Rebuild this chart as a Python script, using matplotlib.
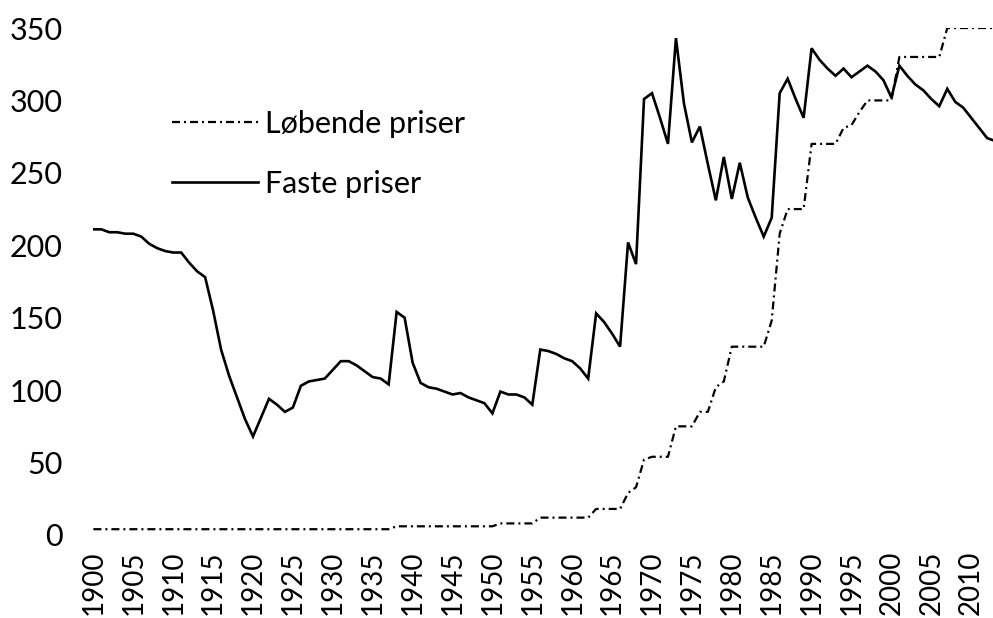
import matplotlib
matplotlib.use("Agg")
import matplotlib.pyplot as plt
import numpy as np

years = list(range(1900, 2014))

faste_priser = [
    211, 211, 209, 209, 208, 208, 206, 201, 198, 196,   # 1900-1909
    195, 195, 188, 182, 178, 155, 128, 110, 95, 80,      # 1910-1919
    68, 81, 94, 90, 85, 88, 103, 106, 107, 108,          # 1920-1929
    114, 120, 120, 117, 113, 109, 108, 104, 154, 150,    # 1930-1939
    119, 105, 102, 101, 99, 97, 98, 95, 93, 91,          # 1940-1949
    84, 99, 97, 97, 95, 90, 128, 127, 125, 122,          # 1950-1959
    120, 115, 108, 153, 147, 139, 130, 202, 187, 301,    # 1960-1969
    305, 288, 270, 343, 298, 271, 282, 256, 231, 261,    # 1970-1979
    232, 257, 233, 219, 206, 219, 305, 315, 301, 288,    # 1980-1989
    336, 328, 322, 317, 322, 316, 320, 324, 320, 314,    # 1990-1999
    302, 324, 317, 311, 307, 301, 296, 308, 299, 295,    # 2000-2009
    288, 281, 274, 272,                                  # 2010-2013
]

lobende_priser = (
    [4] * 38 +                 # 1900-1937
    [6] * 13 +                 # 1938-1950
    [8] * 5 +                  # 1951-1955
    [12] * 7 +                 # 1956-1962
    [18] * 4 +                 # 1963-1966
    [29, 33, 52] +             # 1967-1969
    [54] * 3 +                 # 1970-1972
    [75] * 3 +                 # 1973-1975
    [85] * 2 +                 # 1976-1977
    [102, 106] +               # 1978-1979
    [130] * 5 +                # 1980-1984
    [148, 208] +               # 1985-1986
    [225] * 3 +                # 1987-1989
    [270] * 4 +                # 1990-1993
    [281, 283, 292] +          # 1994-1996
    [300] * 4 +                # 1997-2000
    [330] * 6 +                # 2001-2006
    [350] * 7                  # 2007-2013
)

label_lobende = "Løbende priser"
label_faste = "Faste priser"
yticks = [0, 50, 100, 150, 200, 250, 300, 350]
xticks = list(range(1900, 2011, 5))

plt.rcParams['font.family'] = ['Lato', 'DejaVu Sans']

W, H = 993, 618
fig = plt.figure(figsize=(W / 100, H / 100), dpi=100)
left_px, right_px = 93.4, 993
bottom_px, top_px = 535, 28
ax = fig.add_axes([left_px / W, (H - bottom_px) / H,
                   (right_px - left_px) / W, (bottom_px - top_px) / H])

ax.plot(years, lobende_priser, color='black', lw=1.6,
        linestyle=(0, (3.6, 1.8, 0.9, 1.8)), label=label_lobende,
        solid_capstyle='butt', dash_capstyle='butt')
ax.plot(years, faste_priser, color='black', lw=1.9, label=label_faste,
        solid_joinstyle='miter')

ax.set_xlim(1900, 1900 + (right_px - left_px) / 7.98)
ax.set_ylim(0, 350)
ax.set_yticks(yticks)
ax.set_yticklabels([str(v) for v in yticks])
ax.set_xticks(xticks)
ax.set_xticklabels([str(v) for v in xticks], rotation=90)
for s in ax.spines.values():
    s.set_visible(False)
ax.tick_params(axis='both', length=0, colors='black')
ax.tick_params(axis='y', pad=22, labelsize=22)
ax.tick_params(axis='x', pad=11, labelsize=20)

leg = ax.legend(loc='upper left', bbox_to_anchor=(172 / W, (H - 110) / H),
                bbox_transform=fig.transFigure, frameon=False, fontsize=22,
                handlelength=2.8, handletextpad=0.25, labelspacing=1.05,
                borderpad=0, borderaxespad=0)

fig.savefig("out.png", dpi=100)
